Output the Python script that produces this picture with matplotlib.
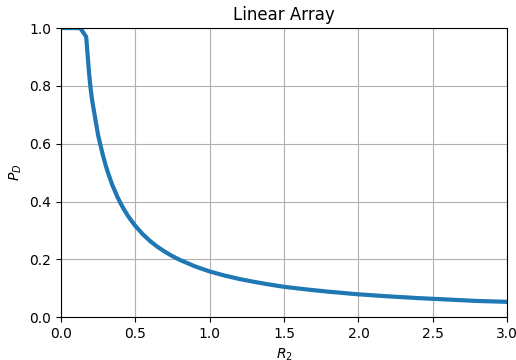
import matplotlib
matplotlib.use('Agg')
import matplotlib.pyplot as plt

# values
r2 = [0.0, 0.05, 0.10, 0.13, 0.17, 0.19, 0.20, 0.21, 0.22, 0.23, 0.24, 0.25, 0.265,
      0.28, 0.30, 0.315, 0.33, 0.345, 0.36, 0.38, 0.40, 0.425, 0.45, 0.475, 0.50,
      0.55, 0.60, 0.65, 0.70, 0.75, 0.80, 0.90, 1.00, 1.10, 1.20, 1.30, 1.40,
      1.50, 1.65, 1.80, 2.00, 2.20, 2.40, 2.60, 2.80, 3.00]
pd_vals = [1.0, 1.0, 1.0, 1.0, 0.97, 0.84, 0.79, 0.75, 0.72, 0.69, 0.66, 0.63, 0.597,
           0.565, 0.527, 0.502, 0.48, 0.458, 0.44, 0.416, 0.395, 0.372, 0.351, 0.333, 0.316,
           0.287, 0.263, 0.243, 0.226, 0.211, 0.198, 0.176, 0.158, 0.144, 0.132, 0.122, 0.113,
           0.105, 0.096, 0.088, 0.079, 0.072, 0.066, 0.061, 0.056, 0.053]

fig, ax = plt.subplots(figsize=(5.16, 3.6), dpi=100)
fig.subplots_adjust(left=0.118, right=0.983, top=0.922, bottom=0.119)

ax.plot(r2, pd_vals, color='#1f77b4', linewidth=3)
ax.set_xlim(0, 3)
ax.set_ylim(0, 1)
ax.grid(True)
ax.set_title('Linear Array')
ax.set_xlabel('$R_2$')
ax.set_ylabel('$P_D$')

fig.savefig('out.png', dpi=100)
